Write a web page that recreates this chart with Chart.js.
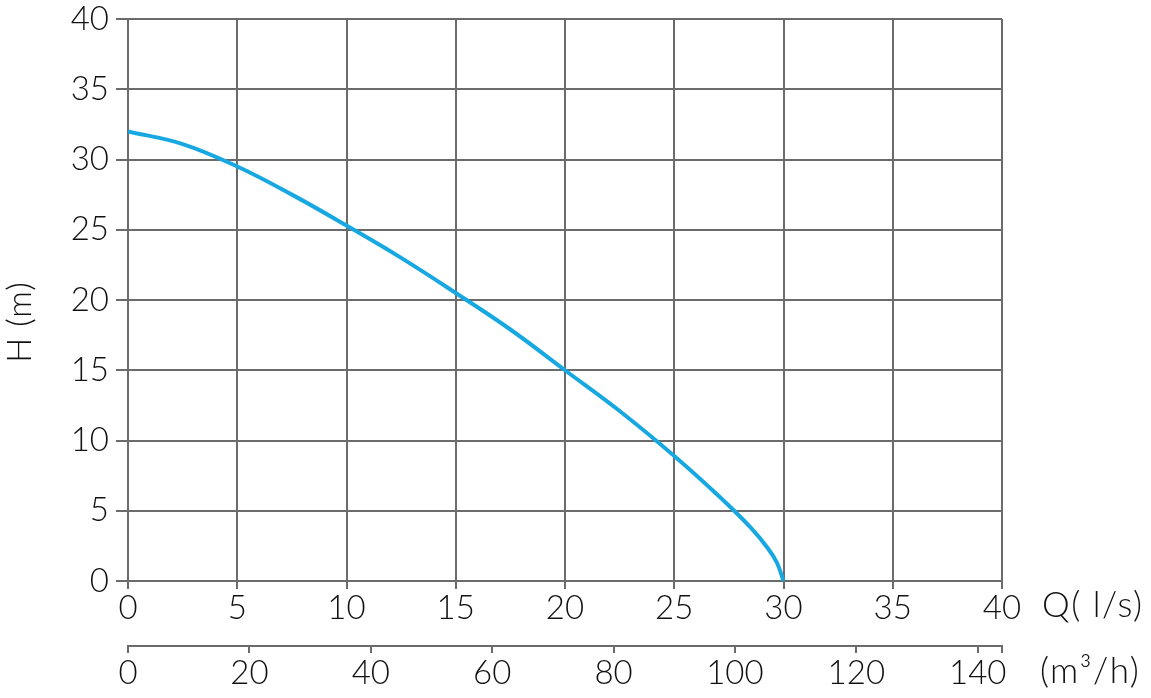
<!DOCTYPE html>
<html>
<head>
<meta charset="utf-8">
<script src="https://cdn.jsdelivr.net/npm/chart.js@4.4.1/dist/chart.umd.min.js"></script>
<style>
  html, body { margin: 0; padding: 0; background: #fff; }
  #mycanvas { display: block; }
</style>
</head>
<body>
<canvas id="mycanvas" width="1151" height="698"></canvas>
<script>
// pump curve: flow Q (l/s) vs head H (m)
var flowLs = [0, 2.5, 5, 7.5, 10, 12.5, 15, 17.5, 20, 22.5, 25, 27, 28.5, 29.3, 29.7, 30];
var headM  = [32, 31.1, 29.5, 27.5, 25.3, 23.0, 20.5, 17.9, 15.0, 12.1, 8.9, 6.1, 3.8, 2.3, 1.3, 0];

// second axis ticks (m³/h), 40 l/s = 144 m³/h
var m3hTicks = [0, 20, 40, 60, 80, 100, 120, 140, 144];

var qTitle = "Q( l/s)";
var m3hTitle = "(m³/h)";
var hTitle = "H (m)";

var FONT = "Lato, 'Open Sans', sans-serif";
var GRID = "#6b6b6b";
var TEXT = "#111";
var tickFont = { family: FONT, size: 33, weight: 300 };

var points = [];
for (var i in flowLs) {
	points.push({ x: flowLs[i], y: headM[i] });
}

var axisTitles = {
	id: "axisTitles",
	afterDraw: function(chart) {
		var c = chart.ctx;
		var area = chart.chartArea;
		c.save();
		c.fillStyle = TEXT;
		c.font = "300 35px " + FONT;
		c.letterSpacing = "1.5px";
		c.textBaseline = "middle";
		c.textAlign = "left";
		c.fillText(qTitle, area.right + 40, 606);
		c.fillText(m3hTitle, area.right + 38, 672);
		c.letterSpacing = "1px";
		c.font = "300 33px " + FONT;
		c.translate(20, 322);
		c.rotate(-Math.PI / 2);
		c.textAlign = "center";
		c.fillText(hTitle, 0, 0);
		c.restore();
	}
};

var ctx = document.getElementById("mycanvas");

var chart = new Chart(ctx, {
	type: "scatter",
	data: {
		datasets: [{
			data: points,
			showLine: true,
			borderColor: "#17a8e2",
			borderWidth: 4,
			pointRadius: 0,
			tension: 0.4
		}]
	},
	options: {
		responsive: false,
		animation: false,
		layout: { padding: { left: 0, right: 149, top: 19, bottom: 0 } },
		plugins: { legend: { display: false }, tooltip: { enabled: false } },
		scales: {
			x: {
				type: "linear",
				position: "bottom",
				min: 0, max: 40,
				afterFit: function(s) { s.height = 65; s.paddingLeft = 0; s.paddingRight = 0; },
				ticks: { stepSize: 5, color: TEXT, padding: 0, maxRotation: 0, autoSkip: false, font: tickFont },
				grid: { color: GRID, lineWidth: 2, tickLength: 8 },
				border: { color: GRID, width: 2 }
			},
			x2: {
				type: "linear",
				position: "bottom",
				min: 0, max: 144,
				afterFit: function(s) { s.height = 52; s.paddingLeft = 0; s.paddingRight = 0; },
				afterBuildTicks: function(s) {
					s.ticks = m3hTicks.map(function(v) { return { value: v }; });
				},
				ticks: { color: TEXT, padding: 1, maxRotation: 0, autoSkip: false, font: tickFont,
					callback: function(v) { return v === 144 ? "" : v; } },
				grid: { drawOnChartArea: false, color: GRID, lineWidth: 2, tickLength: 7 },
				border: { color: GRID, width: 2 }
			},
			y: {
				type: "linear",
				min: 0, max: 40,
				afterFit: function(s) { s.width = 128; s.paddingTop = 0; s.paddingBottom = 0; },
				ticks: { stepSize: 5, color: TEXT, padding: 7, font: tickFont },
				grid: { color: GRID, lineWidth: 2, tickLength: 12 },
				border: { color: GRID, width: 2 }
			}
		}
	},
	plugins: [axisTitles]
});
</script>
</body>
</html>
